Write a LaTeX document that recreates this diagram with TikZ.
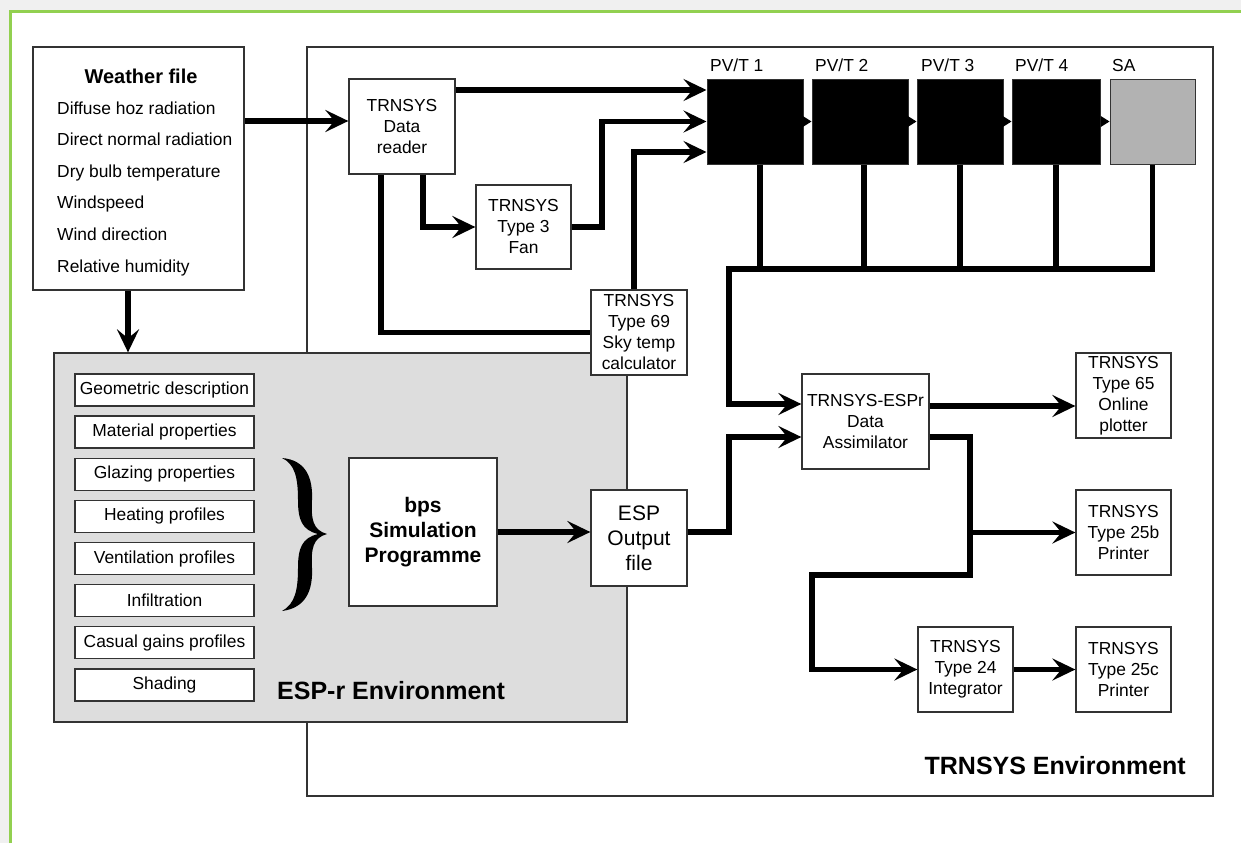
\documentclass[tikz,border=0pt]{standalone}
\usepackage{fontspec}
\setmainfont{Liberation Sans}
\usetikzlibrary{arrows.meta,calc}
\newcommand\fsz[2]{\fontsize{#1}{#2}\selectfont}
\definecolor{framegreen}{HTML}{92D050}
\definecolor{edge}{HTML}{333333}
\definecolor{esppanel}{HTML}{DDDDDD}
\definecolor{sagrey}{HTML}{B2B2B2}
\tikzset{
  box/.style={draw=edge, line width=1.3pt, fill=white, align=center, inner sep=0pt, font=\fsz{17.4}{21}},
  item/.style={box, minimum width=179pt, minimum height=32pt},
  panel/.style={rectangle, fill=black, draw=edge, line width=1pt, minimum height=85pt, inner sep=0pt},
  conn/.style={line width=5.5pt, draw=black},
  arr/.style={conn, -{Stealth[length=23pt,width=22pt,inset=9pt]}},
  flow/.style={line width=1pt, -{Triangle[length=9pt,width=11pt]}},
  plabel/.style={font=\fsz{17.4}{20}, inner sep=0pt, anchor=base west},
  envlabel/.style={font=\bfseries\fsz{25}{30}, inner sep=0pt},
}
\begin{document}
\begin{tikzpicture}[x=1pt,y=-1pt]
\useasboundingbox (0,0) rectangle (1241,843);
% page frame
\fill[white] (0,0) rectangle (1241,843);
\fill[gray!12] (0,0) rectangle (1241,10.5);
\fill[gray!12] (0,0) rectangle (9,843);
\draw[framegreen, line width=3pt] (10.5,843) -- (10.5,12) -- (1241,12);

% TRNSYS environment
\node[draw=edge, line width=1.3pt, minimum width=906pt, minimum height=749pt, inner sep=0pt] (trnenv) at (760,421.5) {};
\node[envlabel, anchor=base east] (trnlabel) at (1186,774) {TRNSYS Environment};

% weather file
\node[box, minimum width=211pt, minimum height=243pt] (weather) at (138.5,168.5) {};
\node[font=\bfseries\fsz{20}{24}, inner sep=0pt] (wtitle) at (141,76) {Weather file};
\node[plabel] (w1) at (57,114) {Diffuse hoz radiation};
\node[plabel] (w2) at (57,145.6) {Direct normal radiation};
\node[plabel] (w3) at (57,177.2) {Dry bulb temperature};
\node[plabel] (w4) at (57,208.8) {Windspeed};
\node[plabel] (w5) at (57,240.4) {Wind direction};
\node[plabel] (w6) at (57,272) {Relative humidity};

% ESP-r environment
\node[draw=edge, line width=1.3pt, fill=esppanel, minimum width=573pt, minimum height=369pt, inner sep=0pt] (espr) at (340.5,537.5) {};
\node[envlabel, anchor=base west] (esplabel) at (277,699) {ESP-r Environment};
\node[item] (g1) at (164.5,390) {Geometric description};
\node[item] (g2) at (164.5,432.1) {Material properties};
\node[item] (g3) at (164.5,474.3) {Glazing properties};
\node[item] (g4) at (164.5,516.4) {Heating profiles};
\node[item] (g5) at (164.5,558.6) {Ventilation profiles};
\node[item] (g6) at (164.5,600.7) {Infiltration};
\node[item] (g7) at (164.5,642.8) {Casual gains profiles};
\node[item] (g8) at (164.5,685) {Shading};
% brace gathering the inputs
\fill[black] (282,458) .. controls (306,460) and (313,478) .. (312,500)
  .. controls (311,520) and (313,530) .. (327,534)
  .. controls (313,538) and (311,548) .. (312,568)
  .. controls (313,590) and (306,608) .. (282,611)
  .. controls (295,604) and (298,590) .. (298,568)
  .. controls (298,548) and (302,538) .. (318,534)
  .. controls (302,530) and (298,520) .. (298,500)
  .. controls (298,478) and (295,464) .. (282,458) -- cycle;
\node[box, minimum width=148pt, minimum height=148pt, font=\bfseries\fsz{21}{25}] (bps) at (423,532) {bps\\Simulation\\Programme};

% TRNSYS components
\node[box, minimum width=106pt, minimum height=95pt] (reader) at (402,126.5) {TRNSYS\\Data\\reader};
\node[box, minimum width=95pt, minimum height=84pt] (fan) at (523.5,227) {TRNSYS\\Type 3\\Fan};
\node[box, minimum width=96pt, minimum height=85pt] (sky) at (639,332.5) {TRNSYS\\Type 69\\Sky temp\\calculator};
\node[box, minimum width=96pt, minimum height=96pt, font=\fsz{21}{25}] (espout) at (639,538) {ESP\\Output\\file};
\node[box, minimum width=127pt, minimum height=95pt] (assim) at (865.5,421.5) {TRNSYS-ESPr\\Data\\Assimilator};
\node[box, minimum width=95pt, minimum height=85pt] (type65) at (1123.5,395.5) {TRNSYS\\Type 65\\Online\\plotter};
\node[box, minimum width=95pt, minimum height=85pt] (type25b) at (1123.5,532.5) {TRNSYS\\Type 25b\\Printer};
\node[box, minimum width=95pt, minimum height=85pt] (type24) at (965.5,669.5) {TRNSYS\\Type 24\\Integrator};
\node[box, minimum width=95pt, minimum height=85pt] (type25c) at (1123.5,669.5) {TRNSYS\\Type 25c\\Printer};

% collector panels
\node[panel, minimum width=96pt] (p1) at (755,121.5) {};
\node[panel, minimum width=96pt] (p2) at (860,121.5) {};
\node[panel, minimum width=86pt] (p3) at (960,121.5) {};
\node[panel, minimum width=88pt] (p4) at (1056,121.5) {};
\node[panel, minimum width=85pt, fill=sagrey] (sa) at (1152.5,121.5) {};
\node[plabel] (l1) at (710,71) {PV/T 1};
\node[plabel] (l2) at (815,71) {PV/T 2};
\node[plabel] (l3) at (921,71) {PV/T 3};
\node[plabel] (l4) at (1015,71) {PV/T 4};
\node[plabel] (l5) at (1112,71) {SA};

% routing levels
\coordinate (yA) at (0,121);
\coordinate (yB) at (0,90);
\coordinate (yD) at (0,152);
\coordinate (xF) at (423,0);
\coordinate (xG) at (602,0);
\coordinate (xS) at (634,0);
\coordinate (xR) at (381,0);
\coordinate (xW) at (128,0);
\coordinate (bus) at (729,269);
\coordinate (yIn1) at (0,404);
\coordinate (yIn2) at (0,437);
\coordinate (yOut1) at (0,406);
\coordinate (xJ) at (970,0);
\coordinate (yJ) at (0,575);
\coordinate (xK) at (812,0);

% connectors
\draw[arr] (weather.east |- yA) -- (reader.west |- yA);
\draw[arr] (reader.east |- yB) -- (p1.west |- yB);
\draw[arr] (reader.south -| xF) |- (fan.west);
\draw[arr] (fan.east) -| (xG |- p1.west) -- (p1.west);
\draw[arr] (sky.north -| xS) |- (p1.west |- yD);
\draw[conn] (reader.south -| xR) |- (sky.west);
\draw[flow] (p1.east) -- (p2.west);
\draw[flow] (p2.east) -- (p3.west);
\draw[flow] (p3.east) -- (p4.west);
\draw[flow] (p4.east) -- (sa.west);
\draw[conn] ([xshift=5pt]p1.south) -- ([xshift=5pt]p1.south |- bus);
\draw[conn] ([xshift=4pt]p2.south) -- ([xshift=4pt]p2.south |- bus);
\draw[conn] (p3.south) -- (p3.south |- bus);
\draw[conn] (p4.south) -- (p4.south |- bus);
\draw[arr] (sa.south) |- (bus) |- (assim.west |- yIn1);
\draw[arr] (weather.south -| xW) -- (espr.north -| xW);
\draw[arr] (bps.east) -- (espout.west |- bps.east);
\draw[arr] (espout.east |- bps.east) -| (bus |- yIn2) -- (assim.west |- yIn2);
\draw[arr] (assim.east |- yOut1) -- (type65.west |- yOut1);
\draw[arr] (assim.east |- yIn2) -| (xJ |- yJ) -| (xK |- type24.west) -- (type24.west);
\draw[arr] (xJ |- type25b.west) -- (type25b.west);
\draw[arr] (type24.east) -- (type25c.west);
\end{tikzpicture}
\end{document}
